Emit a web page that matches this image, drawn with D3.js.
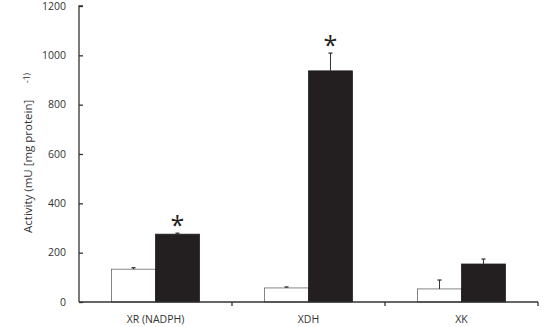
<!DOCTYPE html>
<html>
<head>
<meta charset="utf-8">
<script src="https://cdn.jsdelivr.net/npm/d3@7"></script>
<style>
  body { margin: 0; background: #fff; }
  text { font-family: "Open Sans", "Liberation Sans", sans-serif; fill: #333; }
</style>
</head>
<body>
<script>
// data
var categories = ["XR (NADPH)", "XDH", "XK"];
var series = ["control", "treated"];
var controlValues = [133, 57, 53];
var controlErrors = [6, 4, 36];
var treatedValues = [275, 937, 154];
var treatedErrors = [4, 72, 20];
var significantTreated = [true, true, false];
var yTicks = [0, 200, 400, 600, 800, 1000, 1200];

var margin = {top: 6, right: 9, bottom: 25, left: 79},
    width = 547 - margin.left - margin.right,
    height = 327 - margin.top - margin.bottom;

var svg = d3.select("body").append("svg")
    .attr("width", 547)
    .attr("height", 327)
  .append("g")
    .attr("transform", "translate(" + margin.left + "," + margin.top + ")");

var xScale = d3.scaleBand().domain(categories).range([0, 459]).paddingInner(0).paddingOuter(0);
var xSub = d3.scaleBand().domain(series).range([0, xScale.bandwidth()]).paddingInner(0).paddingOuter(0.74);
var yScale = d3.scaleLinear().domain([0, 1200]).range([296, 0]);

var color = d3.scaleOrdinal().domain(series).range(["#ffffff", "#231f20"]);

var rows = [];
categories.forEach(function(c, i) {
    rows.push({cat: c, s: "control", v: controlValues[i], e: controlErrors[i], star: false});
    rows.push({cat: c, s: "treated", v: treatedValues[i], e: treatedErrors[i], star: significantTreated[i]});
});

// bars
svg.selectAll(".bar")
    .data(rows)
  .enter().append("rect")
    .attr("class", "bar")
    .attr("x", function(d) { return xScale(d.cat) + xSub(d.s); })
    .attr("width", xSub.bandwidth())
    .attr("y", function(d) { return yScale(d.v); })
    .attr("height", function(d) { return yScale(0) - yScale(d.v); })
    .style("fill", function(d) { return color(d.s); })
    .style("stroke", function(d) { return d.s == "control" ? "#666" : "#231f20"; })
    .style("stroke-width", 0.8);

// error bars (upper only)
var err = svg.selectAll(".err")
    .data(rows)
  .enter().append("g")
    .attr("class", "err")
    .attr("transform", function(d) { return "translate(" + (xScale(d.cat) + xSub(d.s) + xSub.bandwidth() / 2) + ",0)"; });
err.append("line")
    .attr("y1", function(d) { return yScale(d.v); })
    .attr("y2", function(d) { return yScale(d.v + d.e); })
    .style("stroke", "#333")
    .style("stroke-width", 1);
err.append("line")
    .attr("x1", -2).attr("x2", 2)
    .attr("y1", function(d) { return yScale(d.v + d.e); })
    .attr("y2", function(d) { return yScale(d.v + d.e); })
    .style("stroke", "#333")
    .style("stroke-width", 1.3);

// asterisks
svg.selectAll(".star")
    .data(rows.filter(function(d) { return d.star; }))
  .enter().append("text")
    .attr("class", "star")
    .attr("x", function(d) { return xScale(d.cat) + xSub(d.s) + xSub.bandwidth() / 2; })
    .attr("y", function(d) { return yScale(d.v + d.e) + 1; })
    .attr("text-anchor", "middle")
    .style("font-size", "25px")
    .style("fill", "#231f20")
    .text("*");

// y axis (ticks point inward)
var yAxis = d3.axisRight(yScale).tickValues(yTicks).tickSize(4).tickFormat("");
var y = svg.append("g").attr("class", "y axis").call(yAxis);
y.select(".domain").attr("d", "M4,0H0V296");
svg.selectAll(".ylab")
    .data(yTicks)
  .enter().append("text")
    .attr("x", -13)
    .attr("y", function(d) { return yScale(d); })
    .attr("dy", "0.35em")
    .attr("text-anchor", "end")
    .style("font-size", "10.5px")
    .text(function(d) { return d; });

// x axis
var xAxis = d3.axisBottom(xScale).tickSize(0).tickFormat("");
var x = svg.append("g").attr("class", "x axis")
    .attr("transform", "translate(0," + yScale(0) + ")")
    .call(xAxis);
x.select(".domain").attr("d", "M0,0H459");
x.selectAll(".bnd")
    .data(categories)
  .enter().append("line")
    .attr("class", "bnd")
    .attr("x1", function(d) { return xScale(d) + xScale.bandwidth(); })
    .attr("x2", function(d) { return xScale(d) + xScale.bandwidth(); })
    .attr("y1", 0).attr("y2", 4);
svg.selectAll(".axis line, .axis path").style("stroke", "#333").style("stroke-width", 1.3);

svg.selectAll(".xlab")
    .data(categories)
  .enter().append("text")
    .attr("x", function(d) { return xScale(d) + xScale.bandwidth() / 2; })
    .attr("y", 317)
    .attr("text-anchor", "middle")
    .style("font-size", "10.5px")
    .text(function(d) { return d; });

// y axis title
svg.append("text")
    .attr("transform", "translate(-47,227) rotate(-90)")
    .attr("text-anchor", "start")
    .style("font-size", "11.5px")
    .text("Activity (mU [mg protein]");
svg.append("text")
    .attr("transform", "translate(-49,77) rotate(-90)")
    .style("font-size", "8.5px")
    .text("-1)");
</script>
</body>
</html>
